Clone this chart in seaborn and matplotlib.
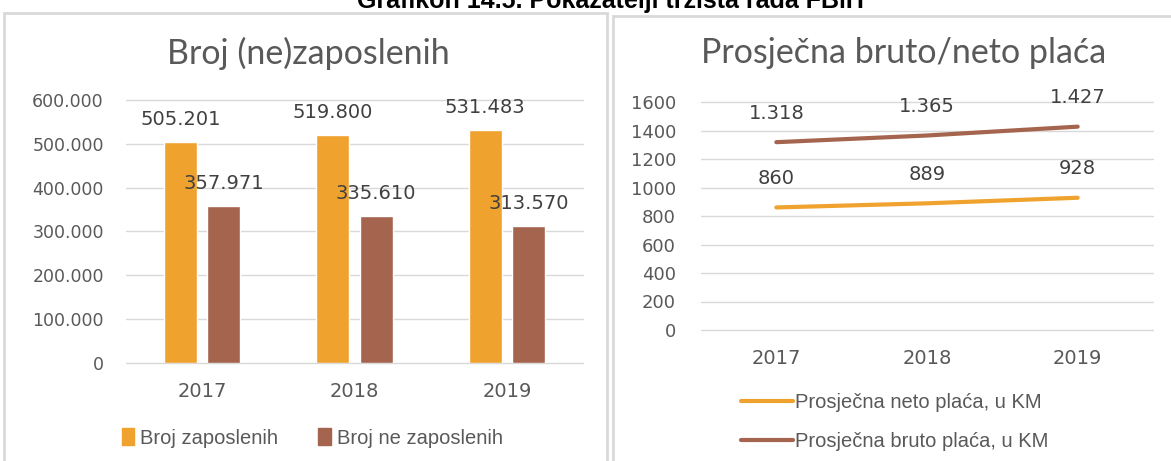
import pandas as pd
import matplotlib.pyplot as plt
import seaborn as sns
from matplotlib.patches import Rectangle

# Data
years = ["2017", "2018", "2019"]
zaposleni = [505201, 519800, 531483]
nezaposleni = [357971, 335610, 313570]
neto = [860, 889, 928]
bruto = [1318, 1365, 1427]

bar_series = ["Broj zaposlenih", "Broj ne zaposlenih"]
line_series = ["Prosječna neto plaća, u KM", "Prosječna bruto plaća, u KM"]
yticks_left = [0, 100000, 200000, 300000, 400000, 500000, 600000]
yticks_right = [0, 200, 400, 600, 800, 1000, 1200, 1400, 1600]

ORANGE = "#F0A22E"
BROWN = "#A5644E"
GREY = "#595959"
DARK = "#404040"
GRID = "#D9D9D9"
LEG_FONT = {"family": ["Liberation Sans Narrow", "Liberation Sans"], "size": 14.5}


def dotted(v):
    # thousands separator as a dot
    return f"{v:,}".replace(",", ".")


bars = pd.DataFrame({
    "year": years * 2,
    "value": zaposleni + nezaposleni,
    "series": [bar_series[0]] * 3 + [bar_series[1]] * 3,
})
lines = pd.DataFrame({
    "year": years * 2,
    "value": neto + bruto,
    "series": [line_series[0]] * 3 + [line_series[1]] * 3,
})

sns.set_style("white")
plt.rcParams["font.family"] = ["DejaVu Sans"]

fig = plt.figure(figsize=(11.71, 4.61), dpi=100)

# panel frames
fig.patches.append(Rectangle((4 / 1171, -0.1), 603 / 1171, 1.1 - 13 / 461,
                             transform=fig.transFigure, fill=False,
                             edgecolor=GRID, lw=2))
fig.patches.append(Rectangle((613 / 1171, -0.1), 0.6, 1.1 - 16 / 461,
                             transform=fig.transFigure, fill=False,
                             edgecolor=GRID, lw=2))

# heading, cut off at the top as in the source
fig.text(0.521, 1 - 8 / 461, "Grafikon 14.5. Pokazatelji tržišta rada FBiH",
         ha="center", va="baseline", fontsize=18, fontweight="bold",
         family=["Liberation Sans", "DejaVu Sans"], color="black")

# ---- left: bars ----
ax1 = fig.add_axes([126 / 1171, 98 / 461, 457 / 1171, 263 / 461])
sns.barplot(data=bars, x="year", y="value", hue="series",
            palette=[ORANGE, BROWN], width=0.57, gap=0.24,
            saturation=1, ax=ax1, legend=False)
ax1.set_xlim(-0.5, 2.5)
ax1.set_ylim(0, 600000)
ax1.set_yticks(yticks_left)
ax1.set_yticklabels([dotted(v) for v in yticks_left])
ax1.grid(axis="y", color=GRID, lw=1)
ax1.set_axisbelow(True)
sns.despine(ax=ax1, left=True, bottom=True)
ax1.set_xlabel("")
ax1.set_ylabel("")
ax1.tick_params(axis="y", length=0, pad=16, labelsize=12.5, labelcolor=GREY)
ax1.tick_params(axis="x", length=0, pad=14, labelsize=14, labelcolor=GREY)
for cont in ax1.containers:
    for p in cont:
        ax1.annotate(dotted(int(round(p.get_height()))),
                     (p.get_x() + p.get_width() / 2, p.get_height()),
                     xytext=(0, 16), textcoords="offset points",
                     ha="center", va="center", fontsize=14, color=DARK)
fig.text(308 / 1171, 1 - 53 / 461, "Broj (ne)zaposlenih", fontsize=24.5,
         color=GREY, family=["Lato", "DejaVu Sans"], ha="center", va="center")

h1 = [Rectangle((0, 0), 1, 1, color=ORANGE), Rectangle((0, 0), 1, 1, color=BROWN)]
fig.legend(h1, bar_series, loc="center left", bbox_to_anchor=(112 / 1171, 23 / 461),
           ncol=2, frameon=False, handlelength=0.6, handleheight=0.9,
           handletextpad=0.3, columnspacing=2.0, borderpad=0,
           prop=LEG_FONT, labelcolor=GREY)

# ---- right: lines ----
ax2 = fig.add_axes([701 / 1171, 131 / 461, 452 / 1171, 228 / 461])
sns.lineplot(data=lines, x="year", y="value", hue="series",
             palette=[ORANGE, BROWN], lw=3, ax=ax2, legend=False)
ax2.set_xlim(-0.5, 2.5)
ax2.set_ylim(0, 1600)
ax2.set_yticks(yticks_right)
ax2.grid(axis="y", color=GRID, lw=1)
ax2.set_axisbelow(True)
sns.despine(ax=ax2, left=True, bottom=True)
ax2.set_xlabel("")
ax2.set_ylabel("")
ax2.tick_params(axis="y", length=0, pad=18, labelsize=13, labelcolor=GREY)
ax2.tick_params(axis="x", length=0, pad=14, labelsize=14, labelcolor=GREY)
for vals in (neto, bruto):
    for i, v in enumerate(vals):
        ax2.annotate(dotted(v), (i, v), xytext=(0, 21), textcoords="offset points",
                     ha="center", va="center", fontsize=14, color=DARK)
fig.text(904 / 1171, 1 - 53 / 461, "Prosječna bruto/neto plaća", fontsize=24.5,
         color=GREY, family=["Lato", "DejaVu Sans"], ha="center", va="center")

for ax in (ax1, ax2):
    for gl in ax.get_ygridlines():
        gl.set_clip_on(False)

h2 = [plt.Line2D([0], [0], color=ORANGE, lw=3), plt.Line2D([0], [0], color=BROWN, lw=3)]
fig.legend(h2, line_series, loc="center left", bbox_to_anchor=(731 / 1171, 39 / 461),
           ncol=1, frameon=False, handlelength=2.6, handletextpad=0.1,
           labelspacing=1.0, borderpad=0, prop=LEG_FONT, labelcolor=GREY)

fig.savefig("out.png", dpi=100)
